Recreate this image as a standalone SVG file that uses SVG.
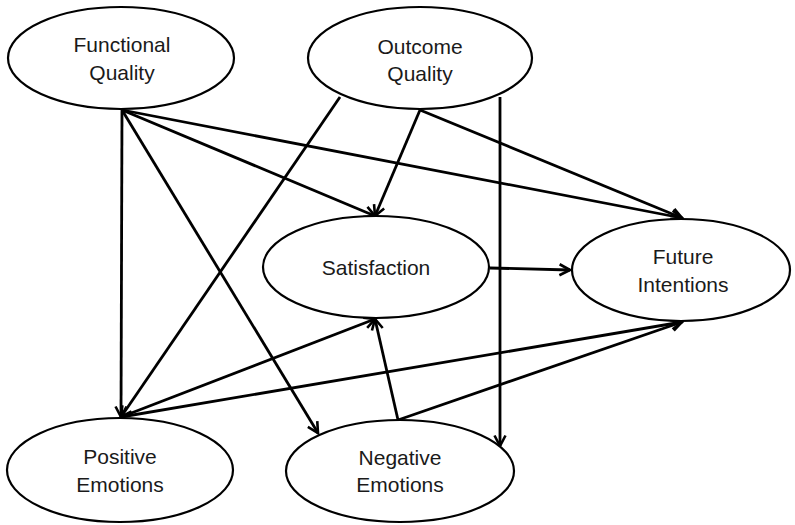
<svg xmlns="http://www.w3.org/2000/svg" width="795" height="525" viewBox="0 0 795 525">
<style>
.node ellipse{fill:#fff;stroke:#000;stroke-width:2.2}
.node text{font-family:"Liberation Sans",Arial,sans-serif;font-size:21px;fill:#1a1a1a;text-anchor:middle}
.edges line{stroke:#000;stroke-width:2.8;fill:none}
</style>
<defs>
<marker id="arr" viewBox="0 0 14 14" refX="12" refY="7" markerWidth="14" markerHeight="14" markerUnits="userSpaceOnUse" orient="auto">
<path d="M1.5,1.5 L12,7 L1.5,12.5" fill="none" stroke="#000" stroke-width="2.6" stroke-linejoin="miter"/>
</marker>
</defs>
<rect width="795" height="525" fill="#fff"/>
<g id="edges" class="edges">
<line x1="122" y1="110" x2="121" y2="417" marker-end="url(#arr)"/>
<line x1="122" y1="110" x2="318" y2="433" marker-end="url(#arr)"/>
<line x1="122" y1="110" x2="375" y2="216" marker-end="url(#arr)"/>
<line x1="122" y1="110" x2="682" y2="218" marker-end="url(#arr)"/>
<line x1="340" y1="97" x2="121" y2="417" marker-end="url(#arr)"/>
<line x1="420" y1="110" x2="375" y2="216" marker-end="url(#arr)"/>
<line x1="420" y1="110" x2="682" y2="218" marker-end="url(#arr)"/>
<line x1="500" y1="97" x2="500" y2="446" marker-end="url(#arr)"/>
<line x1="490" y1="268" x2="570" y2="270" marker-end="url(#arr)"/>
<line x1="121" y1="417" x2="375" y2="319" marker-end="url(#arr)"/>
<line x1="121" y1="417" x2="682" y2="322" marker-end="url(#arr)"/>
<line x1="398" y1="420" x2="375" y2="319" marker-end="url(#arr)"/>
<line x1="398" y1="420" x2="682" y2="322" marker-end="url(#arr)"/>
</g>
<g id="functional-quality" class="node">
<ellipse cx="121" cy="58" rx="113" ry="51"/>
<text x="122" y="52">Functional</text>
<text x="122" y="80">Quality</text>
</g>
<g id="outcome-quality" class="node">
<ellipse cx="420" cy="58" rx="112" ry="51"/>
<text x="420" y="54">Outcome</text>
<text x="420" y="81">Quality</text>
</g>
<g id="satisfaction" class="node">
<ellipse cx="376" cy="267" rx="113" ry="51"/>
<text x="376" y="275">Satisfaction</text>
</g>
<g id="future-intentions" class="node">
<ellipse cx="681" cy="270" rx="109" ry="51"/>
<text x="683" y="264">Future</text>
<text x="683" y="292">Intentions</text>
</g>
<g id="positive-emotions" class="node">
<ellipse cx="120" cy="470" rx="113" ry="52"/>
<text x="120" y="464">Positive</text>
<text x="120" y="492">Emotions</text>
</g>
<g id="negative-emotions" class="node">
<ellipse cx="400" cy="471" rx="114" ry="51"/>
<text x="400" y="465">Negative</text>
<text x="400" y="492">Emotions</text>
</g>
</svg>
